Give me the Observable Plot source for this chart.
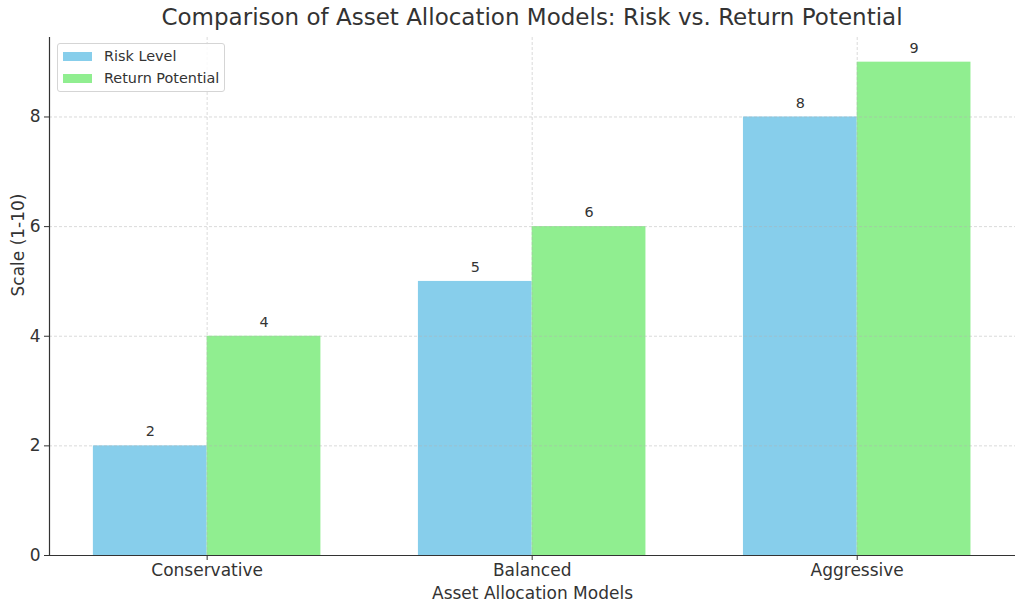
<!DOCTYPE html>
<html><head><meta charset="utf-8">
<script src="https://cdn.jsdelivr.net/npm/d3@7"></script>
<script src="https://cdn.jsdelivr.net/npm/@observablehq/plot@0.6"></script>
<style>
body{margin:0;background:#fff;font-family:"DejaVu Sans",sans-serif;}
#wrap{position:relative;width:1024px;height:611px;}
#title{position:absolute;left:0;width:1064px;top:4px;text-align:center;font-size:23px;color:#333;}
#legend{position:absolute;left:57px;top:43px;width:166px;height:47px;border:1px solid #d5d5d5;border-radius:3px;background:rgba(255,255,255,0.85);font-size:14.4px;color:#333;}
.li{position:absolute;left:5px;height:18px;display:flex;align-items:center;}
.sw{width:29px;height:9px;margin-right:12px;}
</style></head>
<body><div id="wrap"><div id="title"></div><div id="legend"></div><div id="chart"></div></div>
<script>
const title = "Comparison of Asset Allocation Models: Risk vs. Return Potential";
const categories = ["Conservative", "Balanced", "Aggressive"];
const seriesNames = ["Risk Level", "Return Potential"];
const riskLevel = [2, 5, 8];
const returnPotential = [4, 6, 9];
const colors = ["#87ceeb", "#90ee90"];
const yTicks = [0, 2, 4, 6, 8];

document.getElementById("title").textContent = title;
const leg = document.getElementById("legend");
seriesNames.forEach((s, i) => {
  const d = document.createElement("div");
  d.className = "li"; d.style.top = (3 + i * 22) + "px";
  d.innerHTML = `<span class="sw" style="background:${colors[i]}"></span><span>${s}</span>`;
  leg.appendChild(d);
});

const w = 0.35;
const data = [];
categories.forEach((c, i) => {
  data.push({cat: c, idx: i, s: seriesNames[0], v: riskLevel[i], x1: i - w, x2: i});
  data.push({cat: c, idx: i, s: seriesNames[1], v: returnPotential[i], x1: i, x2: i + w});
});

const chart = Plot.plot({
  width: 1024, height: 611,
  marginTop: 37, marginLeft: 49, marginRight: 9, marginBottom: 56,
  style: {fontFamily: "DejaVu Sans, sans-serif", fontSize: "15px", color: "#333", background: "white"},
  x: {type: "linear", domain: [-0.485, 2.487], ticks: [0, 1, 2], tickFormat: i => categories[i], label: null},
  y: {domain: [0, 9.45], ticks: yTicks, label: null},
  color: {domain: seriesNames, range: colors},
  marks: [
    Plot.rectY(data, {x1: "x1", x2: "x2", y1: 0, y2: "v", fill: "s", insetLeft: 0, insetRight: 0}),
    Plot.gridY(yTicks.slice(1), {stroke: "#b0b0b0", strokeOpacity: 0.6, strokeDasharray: "3,2", strokeWidth: 0.8}),
    Plot.gridX([0, 1, 2], {stroke: "#b0b0b0", strokeOpacity: 0.6, strokeDasharray: "3,2", strokeWidth: 0.8}),
    Plot.text(data, {x: d => (d.x1 + d.x2) / 2, y: "v", text: d => String(d.v), dy: -14, fontSize: 14.4, fill: "#333"}),
    Plot.axisY({ticks: yTicks, tickSize: 5, tickPadding: 4, fontSize: 17, label: null, stroke: "#333"}),
    Plot.axisX({ticks: [0, 1, 2], tickFormat: i => categories[i], tickSize: 5, tickPadding: 3, fontSize: 17, label: null}),
    Plot.ruleX([-0.485], {stroke: "#333", strokeWidth: 1.2}),
    Plot.ruleY([0], {stroke: "#333", strokeWidth: 1.2}),
    Plot.text(["Asset Allocation Models"], {frameAnchor: "bottom", dy: 43, fontSize: 17, fill: "#333"}),
    Plot.text(["Scale (1-10)"], {frameAnchor: "left", dx: -31, rotate: -90, fontSize: 17, fill: "#333"})
  ]
});
document.getElementById("chart").appendChild(chart);
</script></body></html>
